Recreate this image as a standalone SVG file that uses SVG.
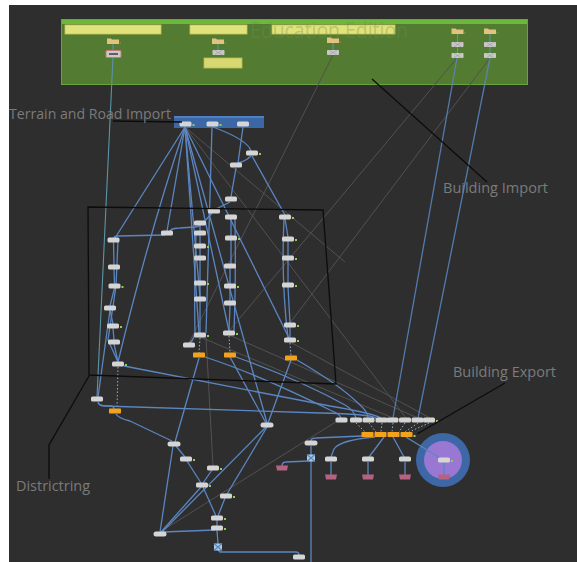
<svg xmlns="http://www.w3.org/2000/svg" xmlns:xlink="http://www.w3.org/1999/xlink" width="577" height="562" viewBox="0 0 577 562">
<style>
  .bg{fill:#2e2e2e}
  .lbl{font-family:"Open Sans","DejaVu Sans",sans-serif;font-size:14px;fill:#7b7b7b}
  .wm{font-family:"Open Sans","DejaVu Sans",sans-serif;font-size:21px;fill:#6f8f55;fill-opacity:0.35}
  .w{fill:none;stroke:#5b86c2;stroke-width:1.3}
  .wt{fill:none;stroke:#5a95a6;stroke-width:1.1}
  .g{fill:none;stroke:#525252;stroke-width:1}
  .k{fill:none;stroke:#0c0c0c;stroke-width:1.3}
  .dash{fill:none;stroke:#8fb0d8;stroke-width:1;stroke-dasharray:1.5 2}
  .nd{fill:#d5d5d5}
  .od{fill:#f3a21d}
  .pk{fill:#b6617f}
  .fd{fill:#e3c27f}
  .dt{fill:#8fd14f}
</style>
<defs>
  <rect id="node" x="-6" y="-2.5" width="12" height="5" rx="1.6" class="nd"/>
  <rect id="oval" x="-6.5" y="-2.5" width="13" height="5" rx="2.5" class="nd"/>
  <rect id="orange" x="-6" y="-2.5" width="12" height="5" rx="0.8" class="od"/>
  <path id="pink" d="M-6,-2.5 H6 L5,2.5 H-5 Z" class="pk"/>
  <g id="folder"><path d="M-6,-2 H6 V2.5 H-6 Z M-6,-2 V-3 H-2 L-1,-2 Z" class="fd"/><rect x="6.5" y="1" width="1.5" height="1" fill="#9a8a6a"/></g>
  <g id="hourglass"><rect x="-6" y="-2.5" width="12" height="5" rx="0.8" fill="#c8c8c8"/><path d="M-4,-2.5 L0,0 L4,-2.5 M-4,2.5 L0,0 L4,2.5" stroke="#9a9a9a" stroke-width="0.6" fill="none"/></g>
  <g id="xnode"><rect x="-4" y="-3.5" width="8" height="7" rx="1" fill="#a7c9ea"/><path d="M-4,-3.5 L4,3.5 M4,-3.5 L-4,3.5" stroke="#5d84b3" stroke-width="1.2"/></g>
  <rect id="dot" x="-1" y="-1" width="2" height="2" class="dt"/>
</defs>

<!-- canvas -->
<rect width="577" height="562" fill="#ffffff"/>
<rect x="9" y="5" width="568" height="557" class="bg"/>

<!-- asset network box -->
<g id="import_box">
  <rect x="61" y="19" width="467" height="66" fill="#547b32"/>
  <rect x="61" y="19" width="467" height="5" fill="#6cb83a"/>
  <rect x="61.5" y="19.5" width="466" height="65" fill="none" stroke="#67a53a" stroke-width="1"/>
  <rect x="65" y="25" width="96" height="9" fill="#e2e27a" stroke="#c7c75a" stroke-width="0.8"/>
  <rect x="190" y="25" width="57" height="9" fill="#e2e27a" stroke="#c7c75a" stroke-width="0.8"/>
  <rect x="272" y="25" width="123" height="9" fill="#e2e27a" stroke="#c7c75a" stroke-width="0.8"/>
  <rect x="204" y="58" width="38" height="10" fill="#d8d872" stroke="#bdbd55" stroke-width="0.8"/>
  <text x="250" y="38" class="wm" textLength="158" lengthAdjust="spacingAndGlyphs">Education Edition</text>
</g>

<!-- terrain and road import box -->
<g id="terrain_box">
  <rect x="174" y="116" width="90" height="12" fill="#3b67a6"/>
  <rect x="174" y="116" width="90" height="2" fill="#4e80c2"/>
</g>

<!-- wires -->
<g id="connectors">
  <!-- inside asset box -->
  <path class="wt" d="M113,44 V51 M218,44 V50 M333,43 V50 M457.5,34 V53 M490,34 V53"/>
  <path class="wt" d="M113,57 L97,397"/>
  <!-- long grey wires -->
  <path class="g" d="M333,55 L189,343"/>
  <path class="g" d="M457,58 L229,331"/>
  <path class="g" d="M490,58 L290,323"/>
  <path class="g" d="M185,127 L345,262"/>
  <path class="g" d="M206,337 L213,466"/>
  <path class="g" d="M160,532 L342,418"/>
  <path class="g" d="M200,337 L393,418"/>
  <path class="g" d="M229,335 L418,418"/>
  <path class="g" d="M290,342 L430,418"/>
  <path class="g" d="M185,127 L406,418"/>
  <!-- from building import -->
  <path class="w" opacity="0.85" d="M457,58 L393,418"/>
  <path class="w" opacity="0.85" d="M490,58 L418,418"/>

  <!-- fan from terrain import -->
  <path class="w" d="M185,127 L115,238"/>
  <path class="w" d="M185,127 Q150,230 118,362"/>
  <path class="w" d="M185,127 L167,231"/>
  <path class="w" d="M185,127 L200,297"/>
  <path class="w" d="M185,127 L199,333"/>
  <path class="w" d="M185,127 L229,331"/>
  <path class="w" d="M185,127 L289,338"/>
  <path class="w" d="M185,127 L267,423"/>
  <path class="w" d="M212,127 L206,333"/>
  <path class="w" d="M213,127 Q248,140 251,151"/>
  <path class="w" d="M243,127 L238,163"/>
  <path class="w" d="M251,156 Q246,161 238,163"/>
  <path class="w" d="M252,156 L285,215"/>
  <path class="w" d="M236,168 Q233,185 231,197"/>
  <path class="w" d="M230,202 Q222,206 216,209"/>

  <!-- column 1 -->
  <path class="w" d="M165,235 L118,236 Q114,236 114,238"/>
  <path class="w" d="M113.5,242 L114,265 M114,269 L114.5,284 M114.5,288 L110,306 M110,310 L113,324 M113,328 L114,340 M114,344 L118,362"/>
  <path class="w" d="M118,241 L116,286 L108,340 L118,362"/>
  <path class="dash" d="M118,367 L117,409"/>
  <path class="w" d="M110,310 L98,397"/>
  <!-- column 2 -->
  <path class="w" d="M170,231 Q172,228 180,228 L195,227 Q199,227 200,225"/>
  <path class="w" d="M205,221 L212,213"/>
  <path class="w" d="M200,225 V231 M200,235 V244 M200,248 V256 M200,260 V281 M200,285 V297 M200,301 V333"/>
  <path class="w" d="M196,235 Q194,290 195,333 Q193,342 189,343"/>
  <path class="dash" d="M200,338 L199,353"/>
  <!-- column 3 -->
  <path class="w" d="M231,219 V236 M231,240 V264 M230,268 V284 M230,288 V301 M230,305 L229,331"/>
  <path class="w" d="M235,219 Q236,280 234,331"/>
  <path class="dash" d="M229,336 L230,353"/>
  <!-- column 4 -->
  <path class="w" d="M285,219 L288,237 M288,241 V256 M288,260 V283 M288,287 L290,323 M290,327 V338"/>
  <path class="w" d="M284,219 Q281,280 288,338"/>
  <path class="dash" d="M290,343 L291,356"/>

  <!-- to building export -->
  <path class="w" d="M205,357 Q260,375 330,410 Q340,414 341,418"/>
  <path class="w" d="M236,357 Q300,380 345,405 Q354,410 356,418"/>
  <path class="w" d="M297,360 Q340,385 360,405 Q368,412 368,418"/>
  <path class="w" d="M124,366 L330,406 Q372,413 381,418"/>
  <path class="w" d="M98,402 Q99,406 104,406 L320,413 Q370,414 376,418"/>
  <path class="w" d="M98,403 Q100,406 110,406 Q114,406 114,409"/>

  <!-- districting chain -->
  <path class="w" d="M116,414 Q118,418 130,421 L172,441"/>
  <path class="w" d="M199,358 L175,442"/>
  <path class="w" d="M230,357 L266,423"/>
  <path class="w" d="M291,360 L268,423"/>
  <path class="w" d="M176,446 L185,457"/>
  <path class="w" d="M187,461 L201,483"/>
  <path class="w" d="M212,470 L203,483"/>
  <path class="w" d="M203,487 L216,516"/>
  <path class="w" d="M225,498 L218,516"/>
  <path class="w" d="M217,520 V526"/>
  <path class="w" d="M217,530 L218,544"/>
  <path class="w" d="M218,550 L220,552 L296,552 Q299,552 299,555"/>
  <path class="w" d="M173,446 L160,532"/>
  <path class="w" d="M201,487 L161,532"/>
  <path class="w" d="M266,427 L162,532"/>
  <path class="w" d="M267,427 L227,494"/>
  <path class="w" d="M215,530 L163,532"/>

  <!-- building export fan-out -->
  <path class="dash" d="M356,423 L365,432 M369,423 L376,432 M382,423 L381,432 M393,423 L392,432 M405,423 L399,432 M418,423 L405,432 M429,423 L409,432"/>
  <path class="w" d="M311,441 Q311,438 316,438 L362,436"/>
  <path class="w" d="M311,446 V455"/>
  <path class="w" d="M311,461 V562"/>
  <path class="w" d="M308,461 L286,462 Q282,462 282,466"/>
  <path class="w" d="M375,437 Q340,440 334,449 L331,457"/>
  <path class="w" d="M384,437 L369,457"/>
  <path class="w" d="M393,437 L404,457"/>
</g>

<!-- building export highlight -->
<g id="export_circle">
  <circle cx="443" cy="460" r="27" fill="#3e67a6"/>
  <circle cx="443" cy="460" r="19" fill="#9878d2"/>
</g>

<g id="export_wires">
  <path class="w" d="M406,437 L440,458"/>
  <path class="w" d="M331,462 V475 M368,462 V475 M405,462 V475 M444,463 V475"/>
</g>

<!-- nodes: asset import -->
<g id="folder_a" transform="translate(113,41.5)"><use href="#folder"/></g>
<g id="archive_a" transform="translate(113.5,54)"><rect x="-7.5" y="-3.5" width="15" height="7" rx="1" fill="#c9c9c9" stroke="#c27a7a" stroke-width="1"/><rect x="-4.5" y="-0.7" width="9" height="1.4" fill="#333"/></g>
<g id="folder_b" transform="translate(218,41.5)"><use href="#folder"/></g>
<g id="file_b" transform="translate(218.5,52.5)"><use href="#hourglass"/></g>
<g id="folder_c" transform="translate(333,40.5)"><use href="#folder"/></g>
<g id="file_c" transform="translate(333,52.5)"><use href="#hourglass"/></g>
<g id="folder_d" transform="translate(457.5,31.5)"><use href="#folder"/></g>
<g id="file_d1" transform="translate(457.5,44.5)"><use href="#hourglass"/></g>
<g id="file_d2" transform="translate(457.5,55.5)"><use href="#hourglass"/></g>
<g id="folder_e" transform="translate(490,31.5)"><use href="#folder"/></g>
<g id="file_e1" transform="translate(490,44.5)"><use href="#hourglass"/></g>
<g id="file_e2" transform="translate(490,55.5)"><use href="#hourglass"/></g>

<!-- nodes: terrain and road import -->
<g id="terrain_a" transform="translate(185.5,124)"><use href="#node"/><use href="#dot" x="8" y="1"/></g>
<g id="terrain_b" transform="translate(212.5,124)"><use href="#node"/><use href="#dot" x="8" y="1"/></g>
<g id="terrain_c" transform="translate(243,124)"><use href="#node"/></g>

<!-- nodes: districting columns -->
<g id="road_1" transform="translate(252,153)"><use href="#node"/><use href="#dot" x="8" y="1"/></g>
<g id="road_2" transform="translate(236,165)"><use href="#node"/></g>
<g id="road_3" transform="translate(231,199)"><use href="#node"/></g>
<g id="road_4" transform="translate(214,211)"><use href="#node"/></g>
<g id="split_a" transform="translate(167,233)"><use href="#node"/></g>

<g id="c1a" transform="translate(113.5,240)"><use href="#node"/></g>
<g id="c1b" transform="translate(114,267)"><use href="#node"/></g>
<g id="c1c" transform="translate(114.5,286)"><use href="#node"/><use href="#dot" x="8" y="1"/></g>
<g id="c1d" transform="translate(110,308)"><use href="#node"/></g>
<g id="c1e" transform="translate(113,326)"><use href="#node"/><use href="#dot" x="8" y="1"/></g>
<g id="c1f" transform="translate(114,342)"><use href="#node"/></g>
<g id="c1g" transform="translate(118,364)"><use href="#node"/><use href="#dot" x="8" y="1"/></g>

<g id="c2a" transform="translate(200,223)"><use href="#node"/></g>
<g id="c2b" transform="translate(200,233)"><use href="#node"/></g>
<g id="c2c" transform="translate(200,246)"><use href="#node"/><use href="#dot" x="8" y="1"/></g>
<g id="c2d" transform="translate(200,258)"><use href="#node"/></g>
<g id="c2e" transform="translate(200,283)"><use href="#node"/><use href="#dot" x="8" y="1"/></g>
<g id="c2f" transform="translate(200,299)"><use href="#node"/></g>
<g id="c2g" transform="translate(200,335)"><use href="#node"/><use href="#dot" x="8" y="1"/></g>
<g id="c2h" transform="translate(189,345)"><use href="#node"/></g>
<g id="c2out" transform="translate(199,355)"><use href="#orange"/></g>

<g id="c3a" transform="translate(231,217)"><use href="#node"/></g>
<g id="c3b" transform="translate(231,238)"><use href="#node"/><use href="#dot" x="8" y="1"/></g>
<g id="c3c" transform="translate(230,266)"><use href="#node"/></g>
<g id="c3d" transform="translate(230,286)"><use href="#node"/><use href="#dot" x="8" y="1"/></g>
<g id="c3e" transform="translate(230,303)"><use href="#node"/></g>
<g id="c3f" transform="translate(229,333)"><use href="#node"/><use href="#dot" x="8" y="1"/></g>
<g id="c3out" transform="translate(230,355)"><use href="#orange"/></g>

<g id="c4a" transform="translate(285,217)"><use href="#node"/><use href="#dot" x="8" y="1"/></g>
<g id="c4b" transform="translate(288,239)"><use href="#node"/><use href="#dot" x="8" y="1"/></g>
<g id="c4c" transform="translate(288,258)"><use href="#node"/><use href="#dot" x="8" y="1"/></g>
<g id="c4d" transform="translate(288,285)"><use href="#node"/><use href="#dot" x="8" y="1"/></g>
<g id="c4e" transform="translate(290,325)"><use href="#node"/><use href="#dot" x="8" y="1"/></g>
<g id="c4f" transform="translate(290,340)"><use href="#node"/><use href="#dot" x="8" y="1"/></g>
<g id="c4out" transform="translate(291,358)"><use href="#orange"/></g>

<!-- nodes: lower network -->
<g id="d1" transform="translate(97,399)"><use href="#node"/></g>
<g id="d1out" transform="translate(115,411)"><use href="#orange"/></g>
<g id="d2" transform="translate(174,444)"><use href="#oval"/></g>
<g id="d3" transform="translate(186,459)"><use href="#node"/><use href="#dot" x="8" y="1"/></g>
<g id="d4" transform="translate(213,468)"><use href="#node"/><use href="#dot" x="8" y="1"/></g>
<g id="d5" transform="translate(202,485)"><use href="#node"/><use href="#dot" x="8" y="1"/></g>
<g id="d6" transform="translate(226,496)"><use href="#node"/><use href="#dot" x="8" y="1"/></g>
<g id="d7" transform="translate(217,518)"><use href="#node"/><use href="#dot" x="8" y="1"/></g>
<g id="d8" transform="translate(217,528)"><use href="#node"/><use href="#dot" x="8" y="1"/></g>
<g id="d9" transform="translate(160,534)"><use href="#oval"/></g>
<g id="d10" transform="translate(267,425)"><use href="#oval"/></g>
<g id="d11" transform="translate(218,547)"><use href="#xnode"/></g>
<g id="d12" transform="translate(299,557)"><use href="#node"/></g>

<!-- nodes: building export -->
<g id="e1" transform="translate(341.5,420)"><use href="#node"/></g>
<g id="e2" transform="translate(356,420)"><use href="#node"/></g>
<g id="e3" transform="translate(368.5,420)"><use href="#node"/></g>
<g id="e4" transform="translate(381.5,420)"><use href="#node"/></g>
<g id="e5" transform="translate(392.5,420)"><use href="#node"/></g>
<g id="e6" transform="translate(405,420)"><use href="#node"/></g>
<g id="e7" transform="translate(417.5,420)"><use href="#node"/></g>
<g id="e8" transform="translate(429,420)"><use href="#node"/><use href="#dot" x="8" y="1"/></g>
<g id="eo1" transform="translate(367.5,434.5)"><use href="#orange"/></g>
<g id="eo2" transform="translate(380.5,434.5)"><use href="#orange"/></g>
<g id="eo3" transform="translate(393.5,434.5)"><use href="#orange"/></g>
<g id="eo4" transform="translate(406.5,434.5)"><use href="#orange"/><use href="#dot" x="8" y="1.5"/></g>
<g id="s1" transform="translate(311,443)"><use href="#oval"/></g>
<g id="s1x" transform="translate(311,458)"><use href="#xnode"/></g>
<g id="s1p" transform="translate(282,468)"><use href="#pink"/></g>
<g id="s2" transform="translate(331,459)"><use href="#node"/></g>
<g id="s3" transform="translate(368,459)"><use href="#node"/></g>
<g id="s4" transform="translate(405,459)"><use href="#node"/></g>
<g id="s5" transform="translate(444,460)"><use href="#node"/><use href="#dot" x="8" y="1"/></g>
<g id="p1" transform="translate(331,477)"><use href="#pink"/></g>
<g id="p2" transform="translate(368,477)"><use href="#pink"/></g>
<g id="p3" transform="translate(405,477)"><use href="#pink"/></g>
<g id="p4" transform="translate(444,477)"><use href="#pink"/></g>

<!-- districting outline and annotations -->
<g id="district_frame">
  <path class="k" d="M88,207 L323,210 L336,384 L89,375 Z"/>
</g>
<g id="annotations">
  <path class="k" d="M113,121 L182,122"/>
  <path class="k" d="M372,79 L487,182"/>
  <path class="k" d="M505,383 L417,434"/>
  <path class="k" d="M49,479 V445 L89,376"/>
  <text x="9" y="119" class="lbl" textLength="162" lengthAdjust="spacingAndGlyphs">Terrain and Road Import</text>
  <text x="443" y="193" class="lbl" textLength="105" lengthAdjust="spacingAndGlyphs">Building Import</text>
  <text x="453" y="377" class="lbl" textLength="103" lengthAdjust="spacingAndGlyphs">Building Export</text>
  <text x="16" y="491" class="lbl" textLength="74" lengthAdjust="spacingAndGlyphs">Districtring</text>
</g>
</svg>
